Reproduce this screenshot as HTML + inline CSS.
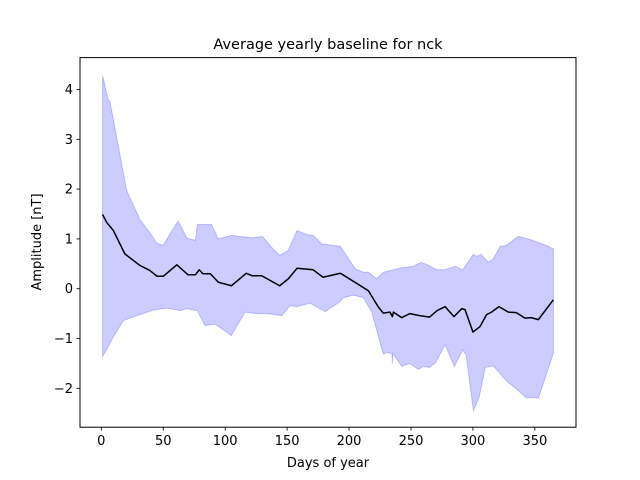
<!DOCTYPE html>
<html><head><meta charset="utf-8"><style>
body{margin:0;background:#fff;}
svg{display:block;font-family:"DejaVu Sans","Liberation Sans",sans-serif;}
</style></head><body>
<svg id="chart" width="640" height="480">
<rect width="640" height="480" fill="#fff"/>
<g id="plot"></g>
<rect x="80" y="57.6" width="496" height="369.6" fill="none" stroke="#000" stroke-width="1"/>
<g id="axes"></g>
<text x="328" y="49" text-anchor="middle" font-size="14.5">Average yearly baseline for nck</text>
<text x="328" y="467" text-anchor="middle" font-size="13">Days of year</text>
<text x="0" y="0" transform="translate(41,242) rotate(-90)" text-anchor="middle" font-size="13">Amplitude [nT]</text>
</svg>
<script>
const meanDays=[1,4.4,9.7,19,31,39,45,50,61,70,76,79,82,88,94.5,105,117,122,129.5,144,151,158,171,179,193,206,215.6,223.7,227.6,233,235,235.8,242.5,249,257,265,271,277.5,284.7,291,293.6,300,305.7,311,315,321,328.6,335,342,347,352.8,365];
const meanVals=[1.49,1.33,1.17,0.70,0.47,0.37,0.25,0.25,0.48,0.28,0.28,0.38,0.30,0.30,0.13,0.06,0.31,0.26,0.26,0.06,0.20,0.41,0.38,0.23,0.31,0.11,-0.04,-0.37,-0.49,-0.47,-0.56,-0.47,-0.58,-0.50,-0.54,-0.57,-0.44,-0.36,-0.56,-0.40,-0.42,-0.87,-0.76,-0.52,-0.47,-0.36,-0.47,-0.48,-0.59,-0.58,-0.62,-0.22];
const upperDays=[1,5.7,7,12.4,20.5,31,39,45,50,55.5,62,69,76,77.5,89,94.5,105,122,130,137.5,144,151,158,165.6,171,178,193,205,211.6,216,222,227.6,234,242.6,251.5,258,262.6,271,277.5,285.5,291.8,300.3,303,306.6,312.4,316.4,322,327,336.6,346,359,365];
const upperVals=[4.28,3.78,3.76,3.04,1.97,1.40,1.13,0.91,0.87,1.10,1.36,1.02,0.97,1.29,1.29,1.00,1.07,1.02,1.05,0.83,0.67,0.77,1.17,1.09,1.07,0.90,0.85,0.40,0.33,0.33,0.20,0.33,0.37,0.42,0.45,0.53,0.49,0.38,0.38,0.45,0.38,0.69,0.65,0.69,0.53,0.60,0.85,0.87,1.05,0.99,0.87,0.80];
const lowerDays=[1,5.7,9.7,17.8,28.6,42,53,64,69,77.5,83.7,91.8,95.9,105,116,125.5,133.6,145.7,152.4,158,168.6,180.7,192.8,195.4,203.5,211.6,218.3,227.6,230.5,234.5,235,235.5,242.5,249,256,260,265,270,277.5,285,291.8,294.5,300.4,305,310,316.5,327,335,343,353,365];
const lowerVals=[-1.36,-1.16,-0.97,-0.64,-0.54,-0.43,-0.39,-0.44,-0.40,-0.44,-0.74,-0.71,-0.78,-0.94,-0.47,-0.50,-0.50,-0.54,-0.34,-0.36,-0.29,-0.46,-0.26,-0.18,-0.13,-0.18,-0.47,-1.31,-1.28,-1.30,-1.50,-1.30,-1.56,-1.50,-1.62,-1.56,-1.58,-1.48,-1.12,-1.56,-1.23,-1.33,-2.45,-2.18,-1.58,-1.55,-1.85,-2.01,-2.19,-2.19,-1.29];
const xTicks=[0,50,100,150,200,250,300,350];
const yTicks=[-2,-1,0,1,2,3,4];

const NS="http://www.w3.org/2000/svg";
const X0=80,X1=576,Y0=57.6,Y1=427.2;
const xmin=-17.2,xmax=383.2;
const ymin=-2.78,ymax=4.64;
const xs=d=>X0+(d-xmin)/(xmax-xmin)*(X1-X0);
const ys=v=>Y1-(v-ymin)/(ymax-ymin)*(Y1-Y0);
const plot=document.getElementById('plot'),axes=document.getElementById('axes');
function mk(tag,attrs,parent){const e=document.createElementNS(NS,tag);for(const k in attrs)e.setAttribute(k,attrs[k]);parent.appendChild(e);return e;}

let d='';
upperDays.forEach((x,i)=>{d+=(i?'L':'M')+xs(x).toFixed(2)+','+ys(upperVals[i]).toFixed(2);});
for(let i=lowerDays.length-1;i>=0;i--){d+='L'+xs(lowerDays[i]).toFixed(2)+','+ys(lowerVals[i]).toFixed(2);}
d+='Z';
const band=mk('path',{d:d,fill:'rgba(0,0,255,0.2)',stroke:'rgba(0,0,255,0.2)','stroke-width':1},plot);



let m='';
meanDays.forEach((x,i)=>{m+=(i?'L':'M')+xs(x).toFixed(2)+','+ys(meanVals[i]).toFixed(2);});
const line=mk('path',{d:m,fill:'none',stroke:'#000','stroke-width':1.5,'stroke-linejoin':'round'},plot);



xTicks.forEach(t=>{
  const x=xs(t);
  const tk=mk('line',{x1:x,x2:x,y1:Y1,y2:Y1+3.5,stroke:'#000','stroke-width':0.8},axes);
  
  
  const lb=mk('text',{x:x,y:Y1+18,'text-anchor':'middle','font-size':13},axes);
  lb.textContent=t;
  
  
});
yTicks.forEach(t=>{
  const y=ys(t);
  const tk=mk('line',{x1:X0-3.5,x2:X0,y1:y,y2:y,stroke:'#000','stroke-width':0.8},axes);
  
  
  const lb=mk('text',{x:X0-7,y:y+4.5,'text-anchor':'end','font-size':13},axes);
  lb.textContent=(t<0?'\u2212'+(-t):t);
  
  
});
</script>
</body></html>
